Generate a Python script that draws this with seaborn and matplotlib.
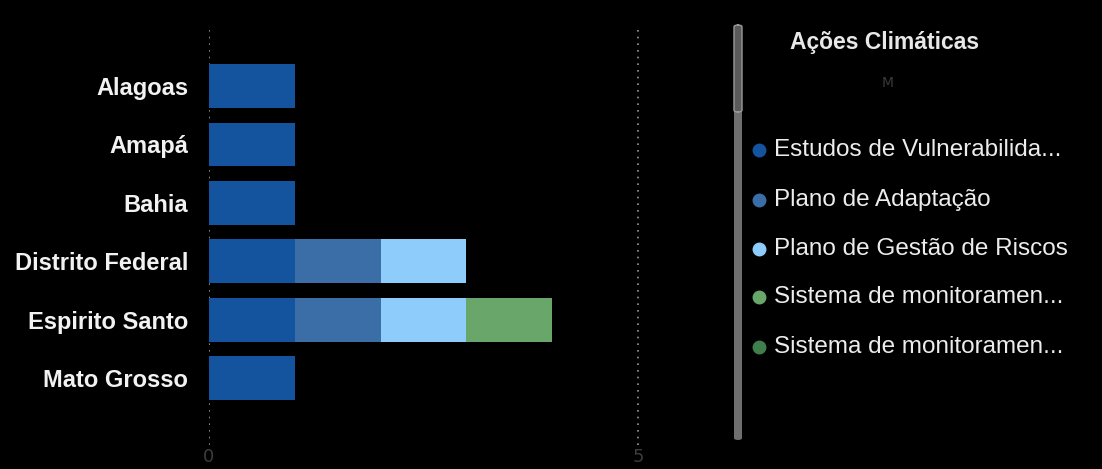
import matplotlib
matplotlib.use("Agg")
import matplotlib.pyplot as plt
import seaborn as sns
import pandas as pd
import numpy as np
from matplotlib.patches import FancyBboxPatch

states = ["Alagoas", "Amapá", "Bahia", "Distrito Federal", "Espirito Santo", "Mato Grosso"]
estudos = [1, 1, 1, 1, 1, 1]
plano_adaptacao = [0, 0, 0, 1, 1, 0]
plano_gestao = [0, 0, 0, 1, 1, 0]
sistema_mon_1 = [0, 0, 0, 0, 1, 0]
sistema_mon_2 = [0, 0, 0, 0, 0, 0]
series_labels = ["Estudos de Vulnerabilida...", "Plano de Adaptação",
                 "Plano de Gestão de Riscos", "Sistema de monitoramen...",
                 "Sistema de monitoramen..."]
legend_title = "Ações Climáticas"
x_ticks = [0, 5]

colors = ["#14549e", "#3b6ea6", "#8ecdfb", "#69a66a", "#3f7f4c"]
series = [estudos, plano_adaptacao, plano_gestao, sistema_mon_1, sistema_mon_2]

sns.set_theme(style="dark")
bg = "#000000"
fig = plt.figure(figsize=(11.02, 4.69), dpi=100, facecolor=bg)
ax = fig.add_axes([209/1102, 1-445/469, (690-209)/1102, 415/469])
ax.set_facecolor(bg)

cum = np.cumsum(np.array(series), axis=0)
# draw from the largest cumulative to the smallest so stacking shows
for i in range(len(series) - 1, -1, -1):
    df = pd.DataFrame({"state": states, "value": cum[i]})
    sns.barplot(data=df, x="value", y="state", color=colors[i], saturation=1,
                width=0.75, orient="h", ax=ax, linewidth=0)

ax.set_xlim(0, (690-209)/85.8)
ax.set_ylim(5 + (445-378)/58.4, -(86-30)/58.4)
ax.set_xticks(x_ticks)
ax.set_xticklabels([str(t) for t in x_ticks], color="#3c3c3c", fontsize=13)
for t in x_ticks:
    ax.axvline(t, color="#9a9a9a", linestyle=(0, (1, 3)), linewidth=1.2, zorder=0)
ax.tick_params(axis="x", length=0, pad=2)
ax.tick_params(axis="y", length=0, pad=15)
for lab in ax.get_yticklabels():
    lab.set_color("#f2f2f2")
    lab.set_fontweight("bold")
    lab.set_fontsize(17)
    lab.set_family(["Liberation Sans", "DejaVu Sans"])
ax.set_xlabel("")
ax.set_ylabel("")
ax.grid(False)
for s in ax.spines.values():
    s.set_visible(False)

# scrollbar
W, H = 1102, 469
track = FancyBboxPatch((734/W, 1-440/H), 8/W, 415/H, boxstyle="round,pad=0,rounding_size=0.004",
                       transform=fig.transFigure, facecolor="#6f6f6f", edgecolor="none")
fig.add_artist(track)
thumb = FancyBboxPatch((734/W, 1-112/H), 8/W, 87/H, boxstyle="round,pad=0,rounding_size=0.004",
                       transform=fig.transFigure, facecolor="#5a5a5a", edgecolor="#9a9a9a", linewidth=1)
fig.add_artist(thumb)

# legend
fig.text(790/W, 1-42/H, legend_title, color="#e8e8e8", fontsize=16.5, fontweight="bold",
         va="center", ha="left", family=["Liberation Sans", "DejaVu Sans"])
fig.text(888/W, 1-83/H, "M", color="#3a3a3a", fontsize=10, va="center", ha="center")
legend_y = [150, 200, 249, 297, 347]
for lab, c, y in zip(series_labels, colors, legend_y):
    fig.add_artist(plt.Line2D([759/W], [1-y/H], marker="o", markersize=9, color=c,
                              linestyle="none", transform=fig.transFigure))
    fig.text(774/W, 1-y/H, lab, color="#ececec", fontsize=17.5, va="center", ha="left",
             family=["Liberation Sans", "DejaVu Sans"])

fig.savefig("out.png", dpi=100, facecolor=bg)
